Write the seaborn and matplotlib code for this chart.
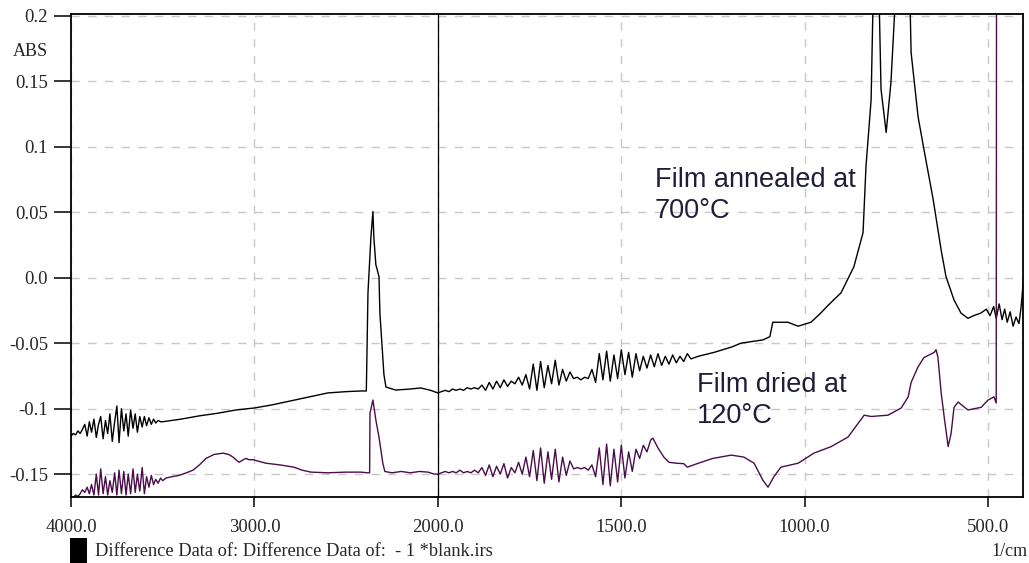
import matplotlib
matplotlib.use("Agg")
import matplotlib.pyplot as plt
import matplotlib.ticker as mticker
from matplotlib.patches import Rectangle
import seaborn as sns
import pandas as pd
import numpy as np

# ---------------- data ----------------
# Film annealed at 700 C (black trace)
annealed_wn = [
    4000, 3988, 3975, 3962, 3950, 3938, 3925, 3912, 3900, 3888, 3875, 3862, 3850, 3838,
    3825, 3812, 3800, 3788, 3775, 3762, 3750, 3738, 3725, 3712, 3700, 3688, 3675, 3662,
    3650, 3638, 3625, 3612, 3600, 3588, 3575, 3562, 3550, 3538, 3525, 3512, 3500,
    3400, 3300, 3200, 3100, 3000, 2900, 2800, 2700, 2600, 2500, 2420, 2390,
    2381, 2365, 2354, 2349, 2338, 2321, 2316, 2305, 2294, 2283, 2230, 2150, 2093, 2040, 2000,
    1990, 1980, 1970, 1960, 1950, 1940, 1930, 1920, 1910, 1900, 1890, 1880, 1870, 1860,
    1850, 1840, 1830, 1820, 1810, 1800, 1790, 1780, 1770, 1760, 1750, 1740, 1730, 1720,
    1710, 1700, 1690, 1680, 1670, 1660, 1650, 1640, 1630, 1620, 1610, 1600, 1590, 1580,
    1570, 1560, 1550, 1540, 1530, 1520, 1510, 1500, 1490, 1480, 1470, 1460, 1450, 1440,
    1430, 1420, 1410, 1400, 1390, 1380, 1370, 1360, 1350, 1340, 1330, 1320, 1310, 1290,
    1247, 1200, 1174, 1114, 1095, 1087, 1046, 1018, 983, 960, 936, 901, 866, 841, 833,
    819, 811, 800, 792, 778, 765, 746, 716, 710, 691, 675, 650, 628, 615, 593, 574, 555,
    540, 520, 505, 495, 485, 478, 470, 462, 455, 448, 440, 432, 424, 416, 410, 404,
]
annealed_abs = [
    -0.121, -0.119, -0.120, -0.117, -0.119, -0.116, -0.112, -0.121, -0.110, -0.118, -0.108,
    -0.122, -0.112, -0.106, -0.123, -0.109, -0.119, -0.104, -0.125, -0.110, -0.098, -0.126,
    -0.100, -0.117, -0.104, -0.121, -0.101, -0.115, -0.104, -0.118, -0.106, -0.114, -0.106,
    -0.113, -0.107, -0.112, -0.108, -0.111, -0.109, -0.110, -0.110,
    -0.108, -0.1055, -0.1035, -0.101, -0.0995, -0.097, -0.094, -0.091, -0.088, -0.087,
    -0.0865, -0.0865,
    -0.0115, 0.031, 0.0505, 0.031, 0.010, 0.001, -0.027, -0.050, -0.074, -0.0835, -0.0858,
    -0.085, -0.0842, -0.086, -0.088,
    -0.087, -0.086, -0.087, -0.085, -0.086, -0.085, -0.086, -0.084, -0.085, -0.084, -0.085,
    -0.082, -0.086, -0.080, -0.085, -0.079, -0.084, -0.078, -0.083, -0.079, -0.081, -0.076,
    -0.082, -0.074, -0.085, -0.066, -0.086, -0.064, -0.084, -0.067, -0.081, -0.063, -0.082,
    -0.070, -0.079, -0.072, -0.077, -0.076, -0.078, -0.076, -0.077, -0.070, -0.080, -0.058,
    -0.078, -0.056, -0.079, -0.059, -0.077, -0.055, -0.074, -0.057, -0.076, -0.058, -0.071,
    -0.060, -0.069, -0.059, -0.068, -0.058, -0.067, -0.060, -0.066, -0.059, -0.065, -0.060,
    -0.064, -0.058, -0.062, -0.060,
    -0.057, -0.053, -0.050, -0.0475, -0.045, -0.034, -0.034, -0.037, -0.034, -0.028, -0.021,
    -0.0115, 0.0084, 0.0345, 0.085, 0.136, 0.25, 0.25, 0.144, 0.111, 0.149, 0.25, 0.25,
    0.172, 0.123, 0.098, 0.060, 0.021, 0.001, -0.017, -0.027, -0.031,
    -0.029, -0.027, -0.024, -0.029, -0.022, -0.031, -0.020, -0.032, -0.024, -0.034, -0.026,
    -0.037, -0.030, -0.035, -0.022, -0.002,
]

# Film dried at 120 C (purple trace)
dried_wn = [
    4000, 3988, 3975, 3962, 3950, 3938, 3925, 3912, 3900, 3888, 3875, 3862, 3850, 3838,
    3825, 3812, 3800, 3788, 3775, 3762, 3750, 3738, 3725, 3712, 3700, 3688, 3675, 3662,
    3650, 3638, 3625, 3612, 3600, 3588, 3575, 3562, 3550, 3538, 3525, 3512, 3500,
    3482, 3450, 3411, 3370, 3335, 3300, 3264, 3220, 3172, 3140, 3117, 3084, 3060, 3046,
    3030, 3008, 2937, 2860, 2785, 2740, 2692, 2600, 2500, 2420, 2385, 2372,
    2370, 2354, 2338, 2321, 2300, 2289, 2250, 2200, 2150, 2100, 2054, 2020, 2000,
    1990, 1980, 1970, 1960, 1950, 1940, 1930, 1920, 1910, 1900, 1890, 1880, 1870, 1860,
    1850, 1840, 1830, 1820, 1810, 1800, 1790, 1780, 1770, 1760, 1750, 1740, 1730, 1720,
    1710, 1700, 1690, 1680, 1670, 1660, 1650, 1640, 1630, 1620, 1610, 1600, 1590, 1580,
    1570, 1560, 1550, 1540, 1530, 1520, 1510, 1500, 1490, 1480, 1470, 1460, 1450, 1440,
    1430, 1420, 1414, 1400, 1384, 1370, 1350, 1330, 1320, 1290, 1250, 1200, 1166, 1138,
    1114, 1100, 1084, 1065, 1018, 975, 928, 882, 838, 819, 773, 737, 718, 710, 691, 675,
    647, 642, 637, 628, 620, 609, 601, 593, 582, 555, 519, 500, 484, 478, 477, 405,
]
dried_abs = [
    -0.170, -0.168, -0.166, -0.167, -0.165, -0.162, -0.164, -0.160, -0.165, -0.158, -0.166,
    -0.150, -0.166, -0.146, -0.165, -0.152, -0.166, -0.155, -0.164, -0.149, -0.166, -0.147,
    -0.165, -0.148, -0.166, -0.150, -0.165, -0.146, -0.164, -0.150, -0.163, -0.145, -0.165,
    -0.152, -0.160, -0.151, -0.158, -0.154, -0.157, -0.153, -0.155,
    -0.153, -0.152, -0.151, -0.149, -0.147, -0.143, -0.138, -0.135, -0.134, -0.135, -0.137,
    -0.141, -0.139, -0.138, -0.139, -0.139, -0.1417, -0.143, -0.1447, -0.147, -0.1485,
    -0.149, -0.1485, -0.1485, -0.149, -0.149,
    -0.1034, -0.0934, -0.1087, -0.1217, -0.1417, -0.148, -0.149, -0.148, -0.149, -0.148,
    -0.1485, -0.150, -0.150,
    -0.149, -0.148, -0.149, -0.148, -0.149, -0.147, -0.149, -0.148, -0.149, -0.147, -0.149,
    -0.145, -0.151, -0.143, -0.152, -0.144, -0.150, -0.142, -0.153, -0.145, -0.149, -0.141,
    -0.150, -0.137, -0.152, -0.132, -0.155, -0.130, -0.157, -0.133, -0.154, -0.131, -0.156,
    -0.137, -0.151, -0.140, -0.146, -0.145, -0.146, -0.145, -0.147, -0.143, -0.152, -0.130,
    -0.158, -0.127, -0.159, -0.131, -0.156, -0.128, -0.153, -0.133, -0.148, -0.131, -0.138,
    -0.128, -0.133, -0.124, -0.1225, -0.130, -0.137, -0.141, -0.1417, -0.142, -0.1447,
    -0.1417, -0.138, -0.1355, -0.137, -0.1417,
    -0.1547, -0.160, -0.152, -0.1447, -0.1417, -0.134, -0.129, -0.1217, -0.105, -0.106,
    -0.105, -0.0995, -0.091, -0.080, -0.068, -0.061,
    -0.057, -0.055, -0.0605, -0.088, -0.106, -0.129, -0.119, -0.099, -0.095, -0.101, -0.099,
    -0.0934, -0.091, -0.0957, 0.30, 0.30,
]

x_major = [4000, 3000, 2000, 1500, 1000, 500]
x_minor = [3800, 3600, 3400, 3200, 2800, 2600, 2400, 2200,
           1900, 1800, 1700, 1600, 1400, 1300, 1200, 1100,
           900, 800, 700, 600]
x_labels = ["4000.0", "3000.0", "2000.0", "1500.0", "1000.0", "500.0"]
y_major = [0.2, 0.15, 0.1, 0.05, 0.0, -0.05, -0.1, -0.15]
y_labels = ["0.2", "0.15", "0.1", "0.05", "0.0", "-0.05", "-0.1", "-0.15"]

# ---------------- figure ----------------
sns.set_style("white")
plt.rcParams["font.family"] = ["Liberation Serif", "DejaVu Serif"]

W, H = 1029, 563
fig = plt.figure(figsize=(W / 100, H / 100), dpi=100)
ax = fig.add_axes([71 / W, 1 - 497 / H, (1023 - 71) / W, (497 - 14) / H])

df_a = pd.DataFrame({"wn": annealed_wn, "abs": annealed_abs})
df_d = pd.DataFrame({"wn": dried_wn, "abs": dried_abs})
sns.lineplot(data=df_a, x="wn", y="abs", ax=ax, color="black", lw=1.0,
             sort=False, estimator=None)
sns.lineplot(data=df_d, x="wn", y="abs", ax=ax, color="#4a0d4a", lw=1.0,
             sort=False, estimator=None)

# piecewise axis: 4000-2000 compressed by factor 2 relative to 2000-400
def fwd(x):
    x = np.asarray(x, dtype=float)
    return np.where(x >= 2000, x, 2 * x - 2000)

def inv(u):
    u = np.asarray(u, dtype=float)
    return np.where(u >= 2000, u, (u + 2000) / 2)

ax.set_xscale("function", functions=(fwd, inv))
ax.set_xlim(4000, 405)
ax.set_ylim(-0.1675, 0.2015)

ax.xaxis.set_major_locator(mticker.FixedLocator(x_major))
ax.xaxis.set_minor_locator(mticker.FixedLocator(x_minor))
ax.set_xticklabels(x_labels)
ax.yaxis.set_major_locator(mticker.FixedLocator(y_major))
ax.yaxis.set_minor_locator(mticker.AutoMinorLocator(6))
ax.set_yticklabels(y_labels)

ax.tick_params(axis="y", which="major", direction="out", length=12.5, width=1.3,
               pad=4, labelsize=13.5)
ax.tick_params(axis="y", which="minor", direction="out", length=6.5, width=1.3)
ax.tick_params(axis="x", which="major", direction="out", length=7.5, width=1.3,
               pad=8, labelsize=13.5)
ax.tick_params(axis="x", which="minor", direction="out", length=4.5, width=1.3)
ax.tick_params(left=True, bottom=True)

for s in ax.spines.values():
    s.set_linewidth(1.3)
    s.set_color("black")

ax.grid(True, which="major", color="#c8c8c8", linestyle=(0, (6, 6)), linewidth=1.0)
ax.set_axisbelow(True)
ax.axvline(2000, color="black", lw=0.9, zorder=3)
ax.set_xlabel("")
ax.set_ylabel("")

fig.text(48 / W, 1 - 51 / H, "ABS", ha="right", va="center", fontsize=13)
fig.text(1028 / W, 1 - 551 / H, "1/cm", ha="right", va="center", fontsize=13)
fig.patches.append(Rectangle((70 / W, 0), 17 / W, 25 / H, transform=fig.transFigure,
                             facecolor="black", edgecolor="none"))
fig.text(95 / W, 1 - 552 / H, "Difference Data of: Difference Data of:  - 1 *blank.irs",
         ha="left", va="center", fontsize=13.2)

ann_kw = dict(family=["Liberation Sans", "DejaVu Sans"], fontsize=19.5,
              color="#1e1e3a", ha="left", va="top", linespacing=1.25)
fig.text(655 / W, 1 - 167 / H, "Film annealed at\n700\u00b0C", **ann_kw)
fig.text(697 / W, 1 - 372 / H, "Film dried at\n120\u00b0C", **ann_kw)

fig.savefig("out.png", dpi=100)
